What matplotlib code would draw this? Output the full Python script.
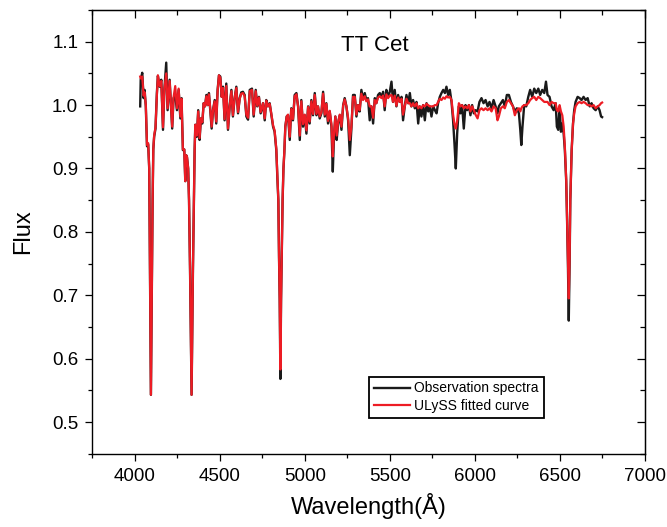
import matplotlib
matplotlib.use('Agg')
import matplotlib.pyplot as plt
from matplotlib.ticker import MultipleLocator

plt.rcParams['font.family'] = ['Liberation Sans', 'DejaVu Sans']

wave = [4033, 4036, 4045, 4053, 4059, 4066, 4073, 4080, 4086, 4090, 4093, 4096, 4099, 4102, 4106, 4110,
        4115, 4123, 4131, 4137, 4147, 4157, 4167, 4175, 4186, 4194, 4206, 4214, 4221, 4229, 4239, 4249,
        4259, 4269, 4276, 4284, 4292, 4298, 4303, 4308, 4315, 4320, 4326, 4330, 4335, 4339, 4343, 4349,
        4353, 4357, 4366, 4374, 4382, 4390, 4398, 4406, 4414, 4422, 4430, 4437, 4445, 4453, 4461, 4471,
        4480, 4488, 4496, 4504, 4512, 4520, 4529, 4539, 4549, 4559, 4569, 4578, 4588, 4598, 4608, 4618,
        4627, 4637, 4647, 4657, 4667, 4677, 4690, 4700, 4712, 4721, 4731, 4741, 4755, 4765, 4774, 4784,
        4794, 4804, 4814, 4823, 4833, 4840, 4845, 4849, 4853, 4857, 4861, 4865, 4870, 4875, 4880, 4886,
        4894, 4902, 4912, 4921, 4931, 4941, 4951, 4961, 4971, 4980, 4990, 5000, 5010, 5020, 5029, 5039,
        5049, 5059, 5069, 5078, 5088, 5098, 5108, 5118, 5127, 5137, 5147, 5157, 5165, 5172, 5180, 5188,
        5196, 5206, 5216, 5226, 5235, 5245, 5255, 5265, 5274, 5284, 5294, 5304, 5313, 5323, 5333, 5343,
        5353, 5362, 5372, 5382, 5392, 5402, 5412, 5421, 5431, 5441, 5451, 5461, 5470, 5480, 5490, 5500,
        5510, 5519, 5529, 5539, 5549, 5559, 5569, 5578, 5588, 5598, 5608, 5618, 5627, 5637, 5647, 5657,
        5667, 5676, 5686, 5696, 5706, 5716, 5726, 5735, 5745, 5755, 5765, 5775, 5784, 5794, 5804, 5814,
        5824, 5833, 5843, 5853, 5863, 5872, 5880, 5888, 5896, 5906, 5916, 5925, 5935, 5945, 5955, 5965,
        5974, 5984, 5994, 6004, 6016, 6027, 6039, 6051, 6063, 6075, 6086, 6098, 6110, 6122, 6133, 6141,
        6153, 6165, 6176, 6188, 6200, 6212, 6224, 6235, 6247, 6259, 6267, 6273, 6280, 6290, 6302, 6314,
        6325, 6337, 6349, 6361, 6373, 6384, 6396, 6408, 6418, 6427, 6439, 6451, 6463, 6475, 6482, 6490,
        6498, 6506, 6514, 6522, 6529, 6537, 6542, 6547, 6552, 6557, 6561, 6569, 6577, 6584, 6592, 6604,
        6616, 6627, 6639, 6651, 6663, 6675, 6686, 6698, 6710, 6722, 6733, 6742, 6748]

obs = [0.998, 1.040, 1.051, 1.011, 1.024, 0.998, 0.935, 0.938, 0.900, 0.760, 0.640, 0.543, 0.640, 0.740, 0.850, 0.930,
       0.950, 0.963, 1.019, 1.046, 1.029, 1.040, 0.961, 1.024, 1.067, 0.992, 1.040, 0.998, 0.963, 1.011, 1.016, 0.992,
       1.024, 0.979, 1.011, 0.929, 0.930, 0.880, 0.921, 0.918, 0.900, 0.850, 0.740, 0.650, 0.543, 0.650, 0.740, 0.850,
       0.930, 0.969, 0.950, 0.992, 0.945, 0.979, 0.971, 1.003, 0.998, 1.016, 1.000, 1.019, 0.992, 0.963, 0.992, 1.008,
       0.971, 1.024, 1.047, 1.045, 1.013, 1.029, 0.976, 1.034, 0.961, 0.998, 1.024, 0.982, 1.011, 1.029, 0.987, 1.011,
       1.020, 1.021, 1.016, 0.982, 0.977, 1.024, 1.026, 0.982, 1.024, 0.998, 1.013, 0.987, 1.003, 0.976, 1.008, 0.998,
       1.003, 0.984, 0.966, 0.958, 0.929, 0.880, 0.850, 0.760, 0.693, 0.568, 0.693, 0.760, 0.850, 0.900, 0.924, 0.966,
       0.982, 0.984, 0.945, 0.995, 0.976, 1.016, 1.019, 0.998, 0.945, 1.008, 0.966, 0.984, 0.955, 0.998, 0.971, 1.008,
       0.984, 1.019, 0.984, 0.998, 0.979, 0.987, 1.021, 0.982, 1.003, 0.971, 0.990, 0.966, 0.895, 0.950, 0.982, 0.945,
       0.971, 0.984, 0.961, 1.000, 1.011, 0.998, 0.976, 0.921, 0.961, 1.016, 1.016, 0.982, 1.000, 0.990, 1.024, 1.010,
       1.019, 1.008, 1.011, 0.976, 0.998, 0.971, 1.011, 1.003, 1.016, 1.019, 1.013, 1.021, 0.992, 1.024, 1.013, 1.021,
       1.037, 1.005, 1.024, 0.998, 1.016, 1.005, 1.013, 0.976, 0.998, 1.016, 1.003, 1.019, 0.998, 1.008, 0.995, 1.005,
       0.971, 0.998, 0.982, 1.000, 0.976, 1.003, 0.990, 0.998, 0.982, 0.998, 0.992, 0.987, 1.003, 1.013, 1.019, 1.024,
       1.019, 1.029, 1.016, 1.024, 1.005, 0.976, 0.940, 0.900, 0.955, 0.998, 0.987, 1.000, 0.963, 1.000, 0.992, 1.000,
       0.984, 1.000, 0.987, 0.992, 0.990, 1.005, 1.011, 1.003, 1.008, 0.998, 1.005, 0.995, 1.008, 0.998, 0.987, 0.998,
       1.003, 1.008, 0.998, 1.016, 1.016, 1.005, 0.998, 0.990, 0.995, 0.987, 0.961, 0.937, 0.966, 1.000, 0.998, 1.013,
       1.024, 1.013, 1.026, 1.019, 1.026, 1.016, 1.024, 1.019, 1.037, 1.016, 1.013, 0.998, 0.992, 1.003, 0.966, 0.961,
       0.998, 0.958, 0.971, 0.955, 0.929, 0.880, 0.820, 0.750, 0.660, 0.750, 0.850, 0.929, 0.971, 0.992, 1.005, 1.013,
       1.011, 1.008, 1.013, 1.008, 1.011, 0.998, 1.003, 0.995, 0.992, 0.998, 0.992, 0.982, 0.981]

fit = [1.045, 1.042, 1.045, 1.015, 1.020, 1.000, 0.937, 0.940, 0.900, 0.760, 0.640, 0.543, 0.640, 0.740, 0.850, 0.930,
       0.952, 0.965, 1.015, 1.047, 1.030, 1.038, 0.965, 1.025, 1.050, 0.995, 1.038, 1.000, 0.966, 1.012, 1.030, 0.995,
       1.026, 0.982, 1.010, 0.930, 0.930, 0.880, 0.921, 0.918, 0.900, 0.850, 0.740, 0.650, 0.543, 0.650, 0.740, 0.850,
       0.930, 0.969, 0.952, 0.990, 0.948, 0.979, 0.973, 1.003, 0.998, 1.014, 1.000, 1.017, 0.994, 0.966, 0.992, 1.006,
       0.974, 1.022, 1.047, 1.043, 1.013, 1.027, 0.978, 1.030, 0.963, 0.998, 1.022, 0.984, 1.011, 1.027, 0.989, 1.010,
       1.018, 1.019, 1.014, 0.985, 0.980, 1.022, 1.024, 0.985, 1.022, 0.999, 1.012, 0.989, 1.003, 0.979, 1.007, 0.998,
       1.002, 0.986, 0.968, 0.960, 0.931, 0.882, 0.850, 0.760, 0.693, 0.583, 0.693, 0.760, 0.850, 0.900, 0.926, 0.966,
       0.982, 0.985, 0.950, 0.994, 0.978, 1.014, 1.017, 0.998, 0.952, 1.006, 0.970, 0.985, 0.960, 0.997, 0.974, 1.006,
       0.986, 1.016, 0.986, 0.998, 0.982, 0.989, 1.018, 0.985, 1.002, 0.975, 0.991, 0.970, 0.919, 0.955, 0.982, 0.952,
       0.973, 0.985, 0.966, 0.999, 1.009, 0.998, 0.980, 0.945, 0.965, 1.013, 1.013, 0.985, 1.000, 0.992, 1.018, 1.008,
       1.014, 1.006, 1.009, 0.998, 0.998, 0.980, 1.008, 1.003, 1.012, 1.014, 1.011, 1.015, 0.998, 1.017, 1.011, 1.015,
       1.016, 1.005, 1.015, 0.999, 1.012, 1.005, 1.010, 0.985, 0.998, 1.010, 1.003, 1.003, 0.998, 1.003, 0.998, 1.003,
       0.995, 0.998, 0.995, 1.000, 0.998, 1.002, 1.000, 0.998, 0.998, 0.998, 1.000, 1.000, 1.005, 1.010, 1.008, 1.012,
       1.010, 1.014, 1.012, 1.013, 1.008, 0.985, 0.970, 0.963, 0.975, 1.003, 0.998, 1.000, 0.995, 0.998, 0.995, 1.000,
       0.990, 0.998, 0.992, 0.985, 0.979, 0.992, 0.995, 0.992, 0.995, 0.992, 0.995, 0.990, 0.998, 0.995, 0.976, 0.982,
       0.995, 0.998, 0.995, 1.005, 1.008, 1.003, 0.998, 0.984, 0.992, 0.995, 0.990, 0.995, 0.998, 1.000, 1.000, 1.003,
       1.008, 1.011, 1.013, 1.008, 1.013, 1.011, 1.008, 1.005, 1.005, 1.005, 1.000, 1.005, 1.003, 1.003, 0.992, 0.990,
       1.000, 0.990, 0.984, 0.966, 0.934, 0.882, 0.820, 0.760, 0.695, 0.760, 0.850, 0.929, 0.971, 0.987, 0.998, 1.003,
       1.005, 1.003, 1.005, 1.003, 1.000, 1.000, 0.998, 1.000, 0.995, 0.998, 1.000, 1.003, 1.004]

fig = plt.figure(figsize=(6.67, 5.27), dpi=100)
ax = fig.add_axes([0.138, 0.139, 0.829, 0.842])

ax.plot(wave, obs, color='#1a1a1a', lw=1.7, label='Observation spectra')
ax.plot(wave, fit, color='#ed1c24', lw=1.6, label='ULySS fitted curve')

ax.set_xlim(3750, 7000)
ax.set_ylim(0.45, 1.15)
ax.xaxis.set_major_locator(MultipleLocator(500))
ax.xaxis.set_minor_locator(MultipleLocator(250))
ax.yaxis.set_major_locator(MultipleLocator(0.1))
ax.yaxis.set_minor_locator(MultipleLocator(0.05))

for side in ['left', 'right', 'top', 'bottom']:
    ax.spines[side].set_linewidth(1.0)

# outward ticks on bottom/left, inward mirrored ticks on top/right
ax.tick_params(which='both', direction='out', top=False, right=False, width=0.9, labelsize=13.5, pad=5)
ax.tick_params(which='major', length=5)
ax.tick_params(which='minor', length=3)
ax2 = ax.secondary_xaxis('top')
ax2.xaxis.set_major_locator(MultipleLocator(500))
ax2.xaxis.set_minor_locator(MultipleLocator(250))
ax2.tick_params(which='both', direction='in', labeltop=False, width=0.9)
ax2.tick_params(which='major', length=6)
ax2.tick_params(which='minor', length=3.5)
ax3 = ax.secondary_yaxis('right')
ax3.yaxis.set_major_locator(MultipleLocator(0.1))
ax3.yaxis.set_minor_locator(MultipleLocator(0.05))
ax3.tick_params(which='both', direction='in', labelright=False, width=0.9)
ax3.tick_params(which='major', length=6)
ax3.tick_params(which='minor', length=3.5)

ax.set_xlabel('Wavelength(Å)', fontsize=17, labelpad=6)
ax.set_ylabel('Flux', fontsize=17, labelpad=13)
ax.text(0.512, 0.921, 'TT Cet', transform=ax.transAxes, ha='center', va='center', fontsize=16)

leg = ax.legend(loc='lower left', bbox_to_anchor=(0.501, 0.081), fontsize=10, fancybox=False,
                edgecolor='black', framealpha=1, handlelength=2.6, handletextpad=0.3,
                borderpad=0.35, labelspacing=0.25, borderaxespad=0)
leg.get_frame().set_linewidth(1.3)

fig.savefig('out.png', dpi=100)
